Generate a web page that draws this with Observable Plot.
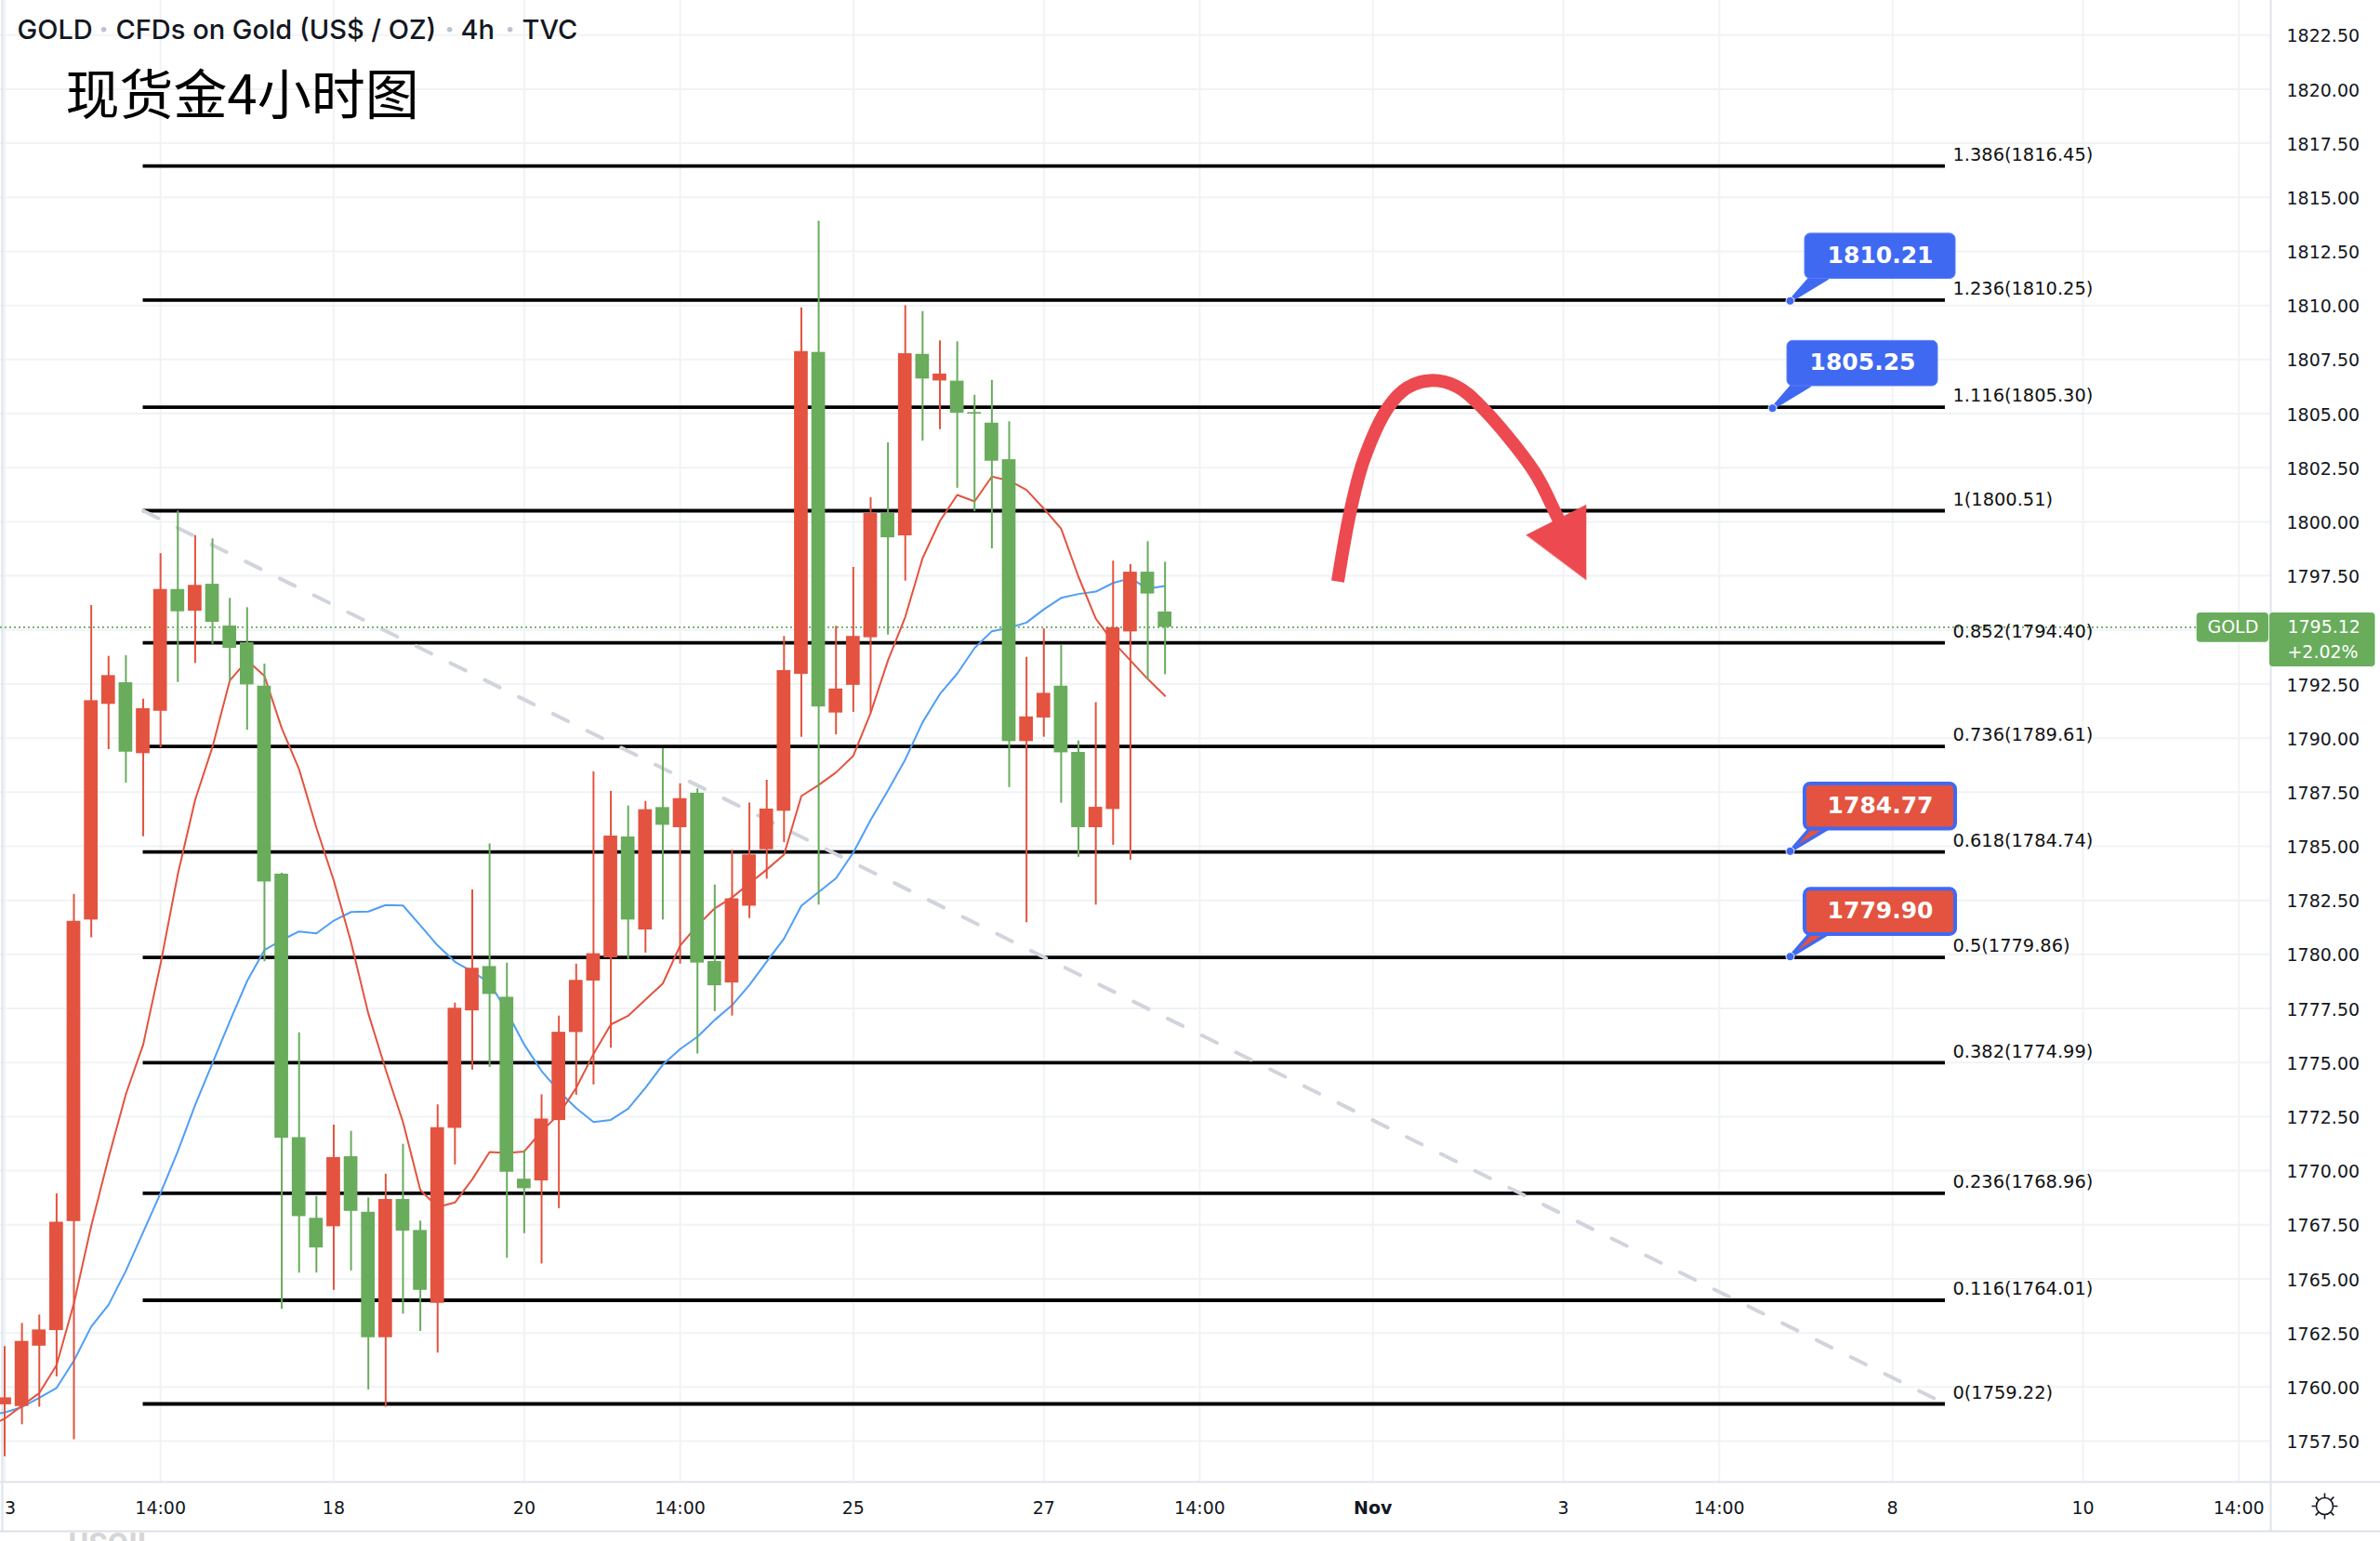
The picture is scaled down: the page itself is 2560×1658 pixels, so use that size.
<!DOCTYPE html>
<html>
<head>
<meta charset="utf-8">
<script src="https://cdn.jsdelivr.net/npm/d3@7"></script>
<script src="https://cdn.jsdelivr.net/npm/@observablehq/plot@0.6"></script>
<style>
  html, body { margin: 0; padding: 0; background: #fff; }
  svg { display: block; overflow: hidden; }
</style>
</head>
<body>
<div id="chart"></div>
<script>
// Candles, in bar order. Red = rising bar, green = falling bar.
const highs = [1761.87,1762.94,1763.33,1768.93,1782.78,1796.13,1793.78,1793.81,1791.80,1798.53,1800.50,1799.36,1799.21,1796.46,1796.03,1793.42,1783.75,1776.37,1768.81,1772.11,1771.82,1768.74,1769.84,1771.22,1767.67,1773.04,1777.75,1782.98,1785.11,1779.60,1770.93,1773.51,1777.15,1779.55,1788.44,1787.53,1786.86,1787.07,1789.51,1787.89,1787.65,1783.21,1784.81,1787.00,1788.05,1794.70,1809.89,1813.90,1795.17,1797.89,1801.11,1803.65,1809.99,1809.72,1808.36,1808.32,1805.85,1806.54,1804.62,1793.73,1795.05,1794.31,1789.87,1791.64,1798.18,1798.03,1799.08,1798.13];
const lows = [1756.78,1758.26,1759.07,1760.47,1757.57,1780.77,1789.47,1787.92,1785.44,1789.55,1792.57,1793.45,1794.33,1792.59,1790.36,1779.66,1763.59,1765.27,1765.27,1764.47,1765.37,1759.87,1759.07,1763.37,1762.57,1761.57,1770.27,1774.65,1774.78,1765.95,1767.09,1765.69,1768.25,1773.49,1773.97,1775.66,1779.77,1780.06,1781.59,1779.55,1775.40,1777.36,1777.15,1781.66,1783.48,1785.17,1790.04,1782.28,1790.15,1791.19,1791.16,1794.76,1797.26,1803.73,1804.26,1801.55,1800.47,1798.75,1787.72,1781.47,1790.04,1786.99,1784.49,1782.28,1785.04,1784.35,1792.69,1792.93];
const opens = [1759.18,1759.10,1761.89,1762.61,1767.65,1781.59,1791.56,1792.56,1789.28,1791.24,1796.87,1795.87,1797.11,1795.18,1794.41,1792.40,1783.71,1771.53,1767.80,1767.41,1770.65,1768.08,1762.28,1768.67,1767.24,1763.87,1771.96,1777.39,1779.44,1778.02,1769.61,1769.53,1772.32,1776.39,1778.77,1779.84,1785.43,1781.13,1786.79,1785.86,1787.45,1779.67,1778.68,1782.23,1784.84,1786.62,1792.95,1807.83,1791.16,1792.44,1794.64,1800.38,1799.35,1807.74,1806.51,1806.50,1805.05,1804.56,1802.87,1789.84,1790.93,1792.40,1789.34,1785.86,1786.70,1794.91,1797.67,1795.83];
const closes = [1759.50,1762.11,1762.64,1767.62,1781.53,1791.73,1792.89,1789.35,1791.36,1796.87,1795.84,1797.06,1795.35,1794.15,1792.46,1783.35,1771.50,1767.88,1766.43,1770.61,1768.12,1762.28,1768.67,1767.21,1764.47,1771.99,1777.51,1779.36,1778.15,1769.93,1769.17,1772.39,1776.40,1778.80,1780.03,1785.47,1781.59,1786.69,1785.97,1787.20,1779.60,1778.55,1782.57,1784.60,1786.72,1793.12,1807.87,1791.44,1792.27,1794.70,1800.38,1799.26,1807.77,1806.60,1806.83,1805.02,1804.98,1802.80,1789.84,1790.98,1792.07,1789.32,1785.86,1786.80,1795.10,1797.67,1796.66,1795.12];

// Moving averages; the first value belongs to the bar left of the picture.
const maBlue = [1758.70,1758.82,1759.07,1759.50,1759.96,1761.22,1762.79,1763.80,1765.37,1767.16,1768.96,1770.90,1773.04,1774.97,1776.91,1778.77,1780.20,1780.66,1781.06,1780.97,1781.56,1781.96,1781.98,1782.28,1782.26,1781.34,1780.41,1779.66,1779.20,1778.69,1777.35,1775.83,1774.61,1773.68,1772.89,1772.25,1772.35,1772.87,1773.83,1774.90,1775.62,1776.19,1776.97,1777.65,1778.58,1779.67,1780.73,1782.25,1782.88,1783.52,1784.71,1786.21,1787.58,1789.01,1790.73,1792.04,1792.98,1794.16,1794.94,1795.10,1795.34,1795.95,1796.48,1796.66,1796.77,1797.17,1797.39,1796.91,1797.03];
const maRed = [1758.18,1758.53,1759.14,1759.72,1761.01,1763.87,1767.45,1770.60,1773.54,1775.83,1779.55,1783.71,1787.15,1789.59,1792.66,1793.59,1792.87,1790.45,1788.56,1785.86,1783.42,1780.56,1777.26,1774.68,1772.25,1769.10,1768.32,1768.53,1769.60,1770.86,1770.82,1770.89,1771.82,1772.61,1773.83,1775.40,1776.76,1777.16,1777.91,1778.65,1780.41,1781.34,1782.13,1782.63,1783.28,1783.92,1784.61,1787.32,1787.83,1788.41,1789.18,1791.16,1793.59,1795.60,1798.32,1800.04,1801.24,1800.94,1802.09,1801.90,1801.47,1800.61,1799.68,1797.46,1795.52,1794.45,1793.59,1792.73,1791.95];

// Fibonacci levels
const fibRatios = ["1.386","1.236","1.116","1","0.852","0.736","0.618","0.5","0.382","0.236","0.116","0"];
const fibPrices = [1816.45,1810.25,1805.30,1800.51,1794.40,1789.61,1784.74,1779.86,1774.99,1768.96,1764.01,1759.22];

// Axis ticks
const priceTicks = [1822.5,1820,1817.5,1815,1812.5,1810,1807.5,1805,1802.5,1800,1797.5,1792.5,1790,1787.5,1785,1782.5,1780,1777.5,1775,1772.5,1770,1767.5,1765,1762.5,1760,1757.5];
const gridPrices = priceTicks.concat([1795]);
const timeTickBars = [9,19,30,39,49,60,69,79,90,99,109,120,129];
const timeTickLabels = ["14:00","18","20","14:00","25","27","14:00","Nov","3","14:00","8","10","14:00"];

// Callouts
const calloutPrices = [1810.21,1805.25,1784.77,1779.90];
const calloutBars = [103.09,102.07,103.09,103.09];
const calloutFills = ["#4069f2","#4069f2","#e3533f","#e3533f"];

// Diagonal dashed trend line
const trendBars = [8,112.05];
const trendPrices = [1800.51,1759.22];

// Hand drawn arrow
const arrowBars = [76.97,77.70,78.49,79.90,80.96,82.31,83.80,85.22,88.30,89.50,89.84];
const arrowPrices = [1797.24,1800.50,1802.90,1805.31,1806.19,1806.53,1806.27,1805.35,1802.33,1800.47,1799.90];
const arrowHeadBars = [87.86,91.31,91.31];
const arrowHeadPrices = [1799.39,1800.78,1797.32];

const lastPrice = 1795.12;
const changeLabel = "+2.02%";

const RED = "#e3533f", GREEN = "#68ac5c", INK = "#131722", GRID = "#f0f3f5", EDGE = "#e0e3eb";
const FONT = "'DejaVu Sans', sans-serif";
const BODY = 0.395;

const candles = highs.map((h, i) => ({i, high: h, low: lows[i], open: opens[i], close: closes[i]}));
const up = candles.filter(d => d.close >= d.open);
const down = candles.filter(d => d.close < d.open);
const blueLine = maBlue.map((v, k) => ({i: k - 1, v}));
const redLine = maRed.map((v, k) => ({i: k - 1, v}));
const fib = fibPrices.map((v, k) => ({v, label: `${fibRatios[k]}(${v.toFixed(2)})`}));
const trend = trendBars.map((b, k) => ({b, v: trendPrices[k]}));
const arrow = arrowBars.map((b, k) => ({b, v: arrowPrices[k]}));
const arrowHead = arrowHeadBars.map((b, k) => ({b, v: arrowHeadPrices[k]}));
const tickLabel = new Map(timeTickBars.map((b, k) => [b, timeTickLabels[k]]));
const monthBars = timeTickBars.filter(b => tickLabel.get(b) === "Nov");

const callouts = calloutPrices.map((v, k) => ({
  v, b: calloutBars[k], fill: calloutFills[k], k,
  x1: calloutBars[k] + 0.859, x2: calloutBars[k] + 9.554,
  y1: v + 1.02, y2: v + 3.11,
  tail: [[calloutBars[k], v], [calloutBars[k] + 1.127, v + 1.04], [calloutBars[k] + 2.147, v + 1.04]]
}));
const tailPoints = callouts.flatMap(c => c.tail.map(([b, y]) => ({b, y, k: c.k, fill: c.fill})));
const blueCallouts = callouts.filter(c => c.k < 2);
const redCallouts = callouts.filter(c => c.k >= 2);

function head(label, dx, dy, opts = {}) {
  return Plot.text([label], {frameAnchor: "top-left", dx, dy, text: d => d, textAnchor: "start", lineAnchor: "middle", ...opts});
}
const headerStyle = {fontFamily: "Inter", fontSize: 29, fontWeight: 500, fill: INK};
const dotStyle = {fontFamily: "Inter", fontSize: 30, fontWeight: 800, fill: "#bcc2ce", textAnchor: "middle"};

const gear = {
  draw(ctx, size) {
    const R = Math.sqrt(size / Math.PI);
    ctx.moveTo(R, 0);
    ctx.arc(0, 0, R, 0, 2 * Math.PI);
    for (let n = 0; n < 8; n++) {
      const a = n * Math.PI / 4;
      ctx.moveTo(R * Math.cos(a), R * Math.sin(a));
      ctx.lineTo(1.55 * R * Math.cos(a), 1.55 * R * Math.sin(a));
    }
  }
};

const chart = Plot.plot({
  width: 2560,
  height: 1658,
  marginLeft: 0,
  marginRight: 118,
  marginTop: 0,
  marginBottom: 64,
  style: {fontFamily: FONT, background: "#fff"},
  x: {domain: [-0.2415, 130.84]},
  y: {domain: [1755.61, 1824.1]},
  marks: [
    // grid and frame
    Plot.gridY(gridPrices, {stroke: GRID, strokeOpacity: 1, strokeWidth: 2}),
    Plot.gridX([0, ...timeTickBars], {stroke: GRID, strokeOpacity: 1, strokeWidth: 2}),
    Plot.ruleX([-0.134], {y1: 1753.33, y2: 1824.1, stroke: "#dbe4ee", strokeWidth: 2}),
    Plot.ruleX([130.84], {y1: 1753.33, y2: 1824.1, stroke: EDGE, strokeWidth: 2}),
    Plot.ruleY([1755.61], {x1: -0.2415, x2: 137.2, stroke: EDGE, strokeWidth: 2}),
    Plot.ruleY([1753.33], {x1: -0.2415, x2: 137.2, stroke: "#dbe1e8", strokeWidth: 2}),

    // Fibonacci levels and trend line
    Plot.ruleY(fib, {y: "v", x1: 8, x2: 112.05, stroke: "#000", strokeWidth: 3.8}),
    Plot.line(trend, {x: "b", y: "v", stroke: "#d1d4dc", strokeWidth: 4, strokeDasharray: "18,23"}),

    // last price line
    Plot.ruleY([lastPrice], {x1: -0.2415, x2: 126.65, stroke: GREEN, strokeWidth: 1.8, strokeDasharray: "2,3"}),

    // moving averages
    Plot.line(blueLine, {x: "i", y: "v", stroke: "#4f9ef5", strokeWidth: 2, clip: true}),
    Plot.line(redLine, {x: "i", y: "v", stroke: "#e3533f", strokeWidth: 2, clip: true}),

    // candles
    Plot.ruleX(down, {x: "i", y1: "low", y2: "high", stroke: GREEN, strokeWidth: 2}),
    Plot.ruleX(up, {x: "i", y1: "low", y2: "high", stroke: RED, strokeWidth: 2}),
    Plot.rect(down, {x1: d => d.i - BODY, x2: d => d.i + BODY, y1: "open", y2: "close", fill: GREEN, clip: true}),
    Plot.rect(up, {x1: d => d.i - BODY, x2: d => d.i + BODY, y1: "open", y2: "close", fill: RED, clip: true}),

    // hand drawn arrow
    Plot.line(arrow, {x: "b", y: "v", stroke: "#ec4a50", strokeWidth: 14, curve: "catmull-rom", strokeLinecap: "butt"}),
    Plot.line(arrowHead, {x: "b", y: "v", fill: "#ec4a50", stroke: "#ec4a50", strokeWidth: 0.5, curve: "linear-closed"}),

    // Fibonacci labels
    Plot.text(fib, {x: 112.48, y: "v", dy: -12, text: "label", textAnchor: "start", fontSize: 19.4, fill: "#111"}),

    // callouts
    Plot.line(tailPoints, {x: "b", y: "y", z: "k", fill: "fill", stroke: "#4069f2", strokeWidth: 3.5, curve: "linear-closed"}),
    Plot.rect(blueCallouts, {x1: "x1", x2: "x2", y1: "y1", y2: "y2", fill: "fill", stroke: "#5a7ef5", strokeWidth: 1, rx: 6}),
    Plot.rect(redCallouts, {x1: "x1", x2: "x2", y1: "y1", y2: "y2", fill: "fill", stroke: "#4069f2", strokeWidth: 4, rx: 6}),
    Plot.dot(callouts, {x: "b", y: "v", r: 4.5, fill: "#4069f2", stroke: "#fff", strokeWidth: 1}),
    Plot.text(callouts, {x: d => (d.x1 + d.x2) / 2, y: d => (d.y1 + d.y2) / 2, dy: -1, text: d => d.v.toFixed(2), fill: "#fff", fontSize: 25, fontWeight: 700}),

    // axes
    Plot.axisY(priceTicks, {anchor: "right", tickSize: 0, tickPadding: 17, dy: 1.5, tickFormat: d3.format(".2f"), fontSize: 19, fill: INK, label: null}),
    Plot.axisX(timeTickBars.filter(b => !monthBars.includes(b)), {anchor: "bottom", tickSize: 0, tickPadding: 21, tickFormat: d => tickLabel.get(d), fontSize: 19, fill: INK, label: null}),
    Plot.text(monthBars, {x: d => d, frameAnchor: "bottom", lineAnchor: "middle", dy: 28, text: d => tickLabel.get(d), fontSize: 19, fontWeight: 700, fill: INK}),
    Plot.text(["3"], {x: 0, frameAnchor: "bottom", lineAnchor: "middle", dx: 6, dy: 28, text: d => d, fontSize: 19, fill: INK}),
    Plot.dot([0], {frameAnchor: "top-left", dx: 2500, dy: 1620, r: 9, symbol: gear, fill: "none", stroke: INK, strokeWidth: 1.6}),

    // price tags
    Plot.rect([0], {x1: 126.58, x2: 130.73, y1: 1794.42, y2: 1795.78, fill: GREEN, rx: 4}),
    Plot.rect([0], {x1: 130.78, x2: 136.88, y1: 1793.29, y2: 1795.78, fill: GREEN, rx: 4}),
    Plot.text(["GOLD"], {x: 128.66, y: lastPrice, text: d => d, fill: "#fff", fontSize: 19}),
    Plot.text([lastPrice.toFixed(2)], {x: 131.8, y: lastPrice, text: d => d, textAnchor: "start", fill: "#fff", fontSize: 19}),
    Plot.text([changeLabel], {x: 131.8, y: 1793.98, text: d => d, textAnchor: "start", fill: "#fff", fontSize: 19}),

    // header and note
    head("GOLD", 18, 32, headerStyle),
    head("·", 111, 32, dotStyle),
    head("CFDs on Gold (US$ / OZ)", 124, 32, headerStyle),
    head("·", 483, 32, dotStyle),
    head("4h", 495, 32, headerStyle),
    head("·", 548, 32, dotStyle),
    head("TVC", 561, 32, headerStyle),
    head("现货金4小时图", 70, 104, {fontFamily: "'Noto Sans CJK SC'", fontSize: 58, fill: "#000"}),
    head("USOIL", 73, 1662, {fontFamily: "Roboto", fontSize: 33, fontWeight: 700, fill: "#d6d6d6"})
  ]
});
document.getElementById("chart").appendChild(chart);
</script>
</body>
</html>
